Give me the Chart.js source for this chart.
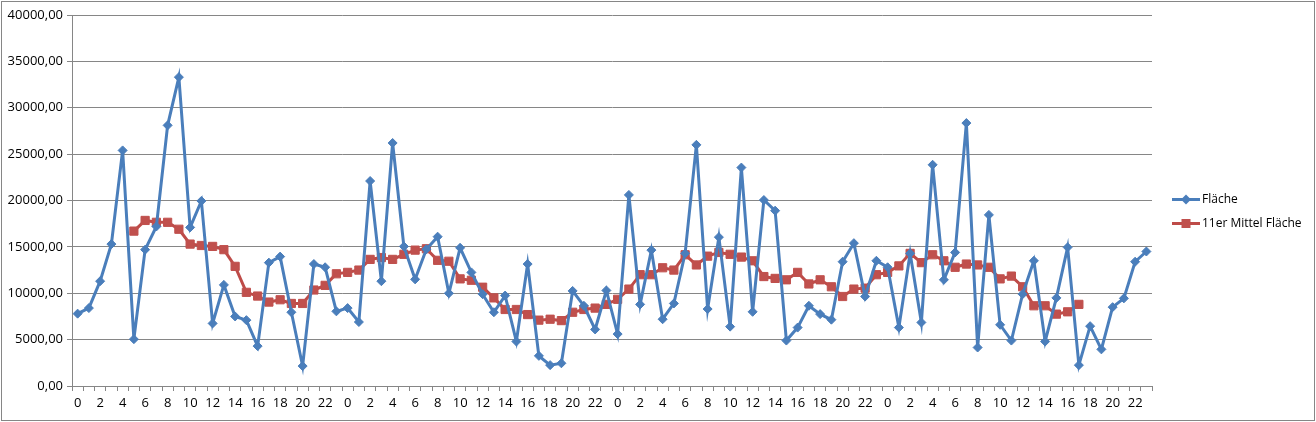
<!DOCTYPE html>
<html>
<head>
<meta charset="utf-8">
<script src="https://cdn.jsdelivr.net/npm/chart.js@4"></script>
<style>
  html, body { margin: 0; padding: 0; background: #fff; }
  #wrap { position: relative; width: 1316px; height: 422px; }
</style>
</head>
<body>
<div id="wrap"><canvas id="c"></canvas></div>
<script>
// ---- data ----
const hours = [0,1,2,3,4,5,6,7,8,9,10,11,12,13,14,15,16,17,18,19,20,21,22,23];
const categories = [].concat(hours, hours, hours, hours).map(String);

const flaeche = [
  7800, 8400, 11300, 15300, 25400, 5050, 14700, 17200, 28100, 33300, 17100, 19950,
  6750, 10900, 7500, 7100, 4300, 13300, 13950, 7950, 2150, 13150, 12800, 8050,
  8400, 6900, 22100, 11300, 26200, 15050, 11500, 14750, 16100, 10000, 14900, 12250,
  9900, 7950, 9750, 4800, 13150, 3250, 2250, 2450, 10250, 8650, 6100, 10300,
  5600, 20600, 8800, 14650, 7200, 8900, 14300, 26000, 8300, 16050, 6400, 23550,
  8000, 20050, 18900, 4900, 6300, 8650, 7750, 7150, 13400, 15400, 9650, 13500,
  12800, 6300, 14300, 6850, 23850, 11450, 14400, 28350, 4150, 18450, 6600, 4900,
  9900, 13500, 4800, 9500, 14950, 2250, 6450, 3950, 8500, 9450, 13400, 14500
];

const mittel = [
  null, null, null, null, null,
  16700, 17850, 17650, 17650, 16900, 15300, 15150, 15050, 14700, 12900, 10100, 9700,
  9050, 9300, 8900, 8900, 10350, 10850, 12100,
  12250, 12500, 13650, 13850, 13650, 14200, 14650, 14800, 13550, 13450, 11550, 11400,
  10650, 9500, 8250, 8250, 7700, 7100, 7200, 7050, 7950, 8250, 8400, 8800,
  9350, 10450, 12000, 12000, 12750, 12500, 14150, 13050, 14000, 14400, 14200, 13900,
  13500, 11800, 11600, 11450, 12250, 11000, 11450, 10700, 9650, 10450, 10550, 12000,
  12250, 12950, 14300, 13300, 14150, 13500, 12800, 13150, 13050, 12800, 11550, 11850,
  10700, 8650, 8650, 7750, 8000, 8800,
  null, null, null, null, null, null
];

const yTicks = [0, 5000, 10000, 15000, 20000, 25000, 30000, 35000, 40000];
const seriesNames = ['Fläche', '11er Mittel Fläche'];

// ---- styles ----
const BLUE = '#4A7EBB';
const RED = '#BE4B48';
const GRID = '#868686';
const FONT = '"Open Sans", "Noto Sans", sans-serif';

const frame = {
  id: 'frame',
  beforeDraw(chart) {
    const ctx = chart.ctx;
    ctx.save();
    ctx.fillStyle = '#fff';
    ctx.fillRect(0, 0, chart.width, chart.height);
    ctx.strokeStyle = GRID;
    ctx.lineWidth = 1;
    ctx.strokeRect(1.5, 1.5, chart.width - 3, chart.height - 3);
    ctx.restore();
  }
};

const legendPlugin = {
  id: 'xlLegend',
  afterDraw(chart) {
    const ctx = chart.ctx;
    const a = chart.chartArea;
    const x0 = a.right + 20;
    const midY = chart.height / 2;
    const rowH = 24;
    ctx.save();
    chart.data.datasets.forEach((ds, k) => {
      const y = Math.round(midY - rowH / 2 + k * rowH) + 0.5;
      ctx.strokeStyle = ds.borderColor;
      ctx.lineWidth = 3;
      ctx.beginPath();
      ctx.moveTo(x0, y);
      ctx.lineTo(x0 + 28, y);
      ctx.stroke();
      ctx.fillStyle = ds.pointBackgroundColor;
      const cx = x0 + 14;
      if (ds.pointStyle === 'rectRot') {
        const r = 5;
        ctx.beginPath();
        ctx.moveTo(cx, y - r); ctx.lineTo(cx + r, y); ctx.lineTo(cx, y + r); ctx.lineTo(cx - r, y);
        ctx.closePath();
        ctx.fill();
      } else {
        const s = 9;
        ctx.fillRect(cx - s / 2, y - s / 2, s, s);
      }
      ctx.fillStyle = '#000';
      ctx.font = '12px ' + FONT;
      ctx.textBaseline = 'middle';
      ctx.textAlign = 'left';
      ctx.fillText(ds.label, x0 + 30, y);
    });
    ctx.restore();
  }
};

new Chart(document.getElementById('c'), {
  type: 'line',
  data: {
    labels: categories,
    datasets: [
      {
        label: seriesNames[0],
        data: flaeche,
        borderColor: BLUE,
        backgroundColor: BLUE,
        pointBackgroundColor: BLUE,
        pointBorderColor: BLUE,
        borderWidth: 3,
        pointStyle: 'rectRot',
        pointRadius: 4.5,
        pointBorderWidth: 1,
        tension: 0
      },
      {
        label: seriesNames[1],
        data: mittel,
        borderColor: RED,
        backgroundColor: RED,
        pointBackgroundColor: '#C0504D',
        pointBorderColor: '#C0504D',
        borderWidth: 3,
        pointStyle: 'rect',
        pointRadius: 5.8,
        pointBorderWidth: 1,
        tension: 0,
        spanGaps: false
      }
    ]
  },
  options: {
    responsive: true,
    maintainAspectRatio: false,
    animation: false,
    layout: { padding: { left: 6, right: 164, top: 15, bottom: 6 } },
    plugins: {
      legend: { display: false },
      tooltip: { enabled: false }
    },
    scales: {
      x: {
        type: 'category',
        offset: true,
        grid: {
          offset: true,
          drawOnChartArea: false,
          drawTicks: true,
          tickLength: 5,
          color: GRID
        },
        border: { color: GRID, width: 1 },
        ticks: {
          autoSkip: false,
          maxRotation: 0,
          minRotation: 0,
          padding: 4,
          color: '#000',
          font: { family: FONT, size: 13 },
          callback: function (v, i) { return i % 2 === 0 ? categories[i] : ''; }
        },
        afterFit(scale) { scale.height = 30; }
      },
      y: {
        min: yTicks[0],
        max: yTicks[yTicks.length - 1],
        afterBuildTicks(scale) { scale.ticks = yTicks.map(v => ({ value: v })); },
        grid: {
          color: GRID,
          drawTicks: true,
          tickLength: 5,
          lineWidth: 1
        },
        border: { color: GRID, width: 1 },
        ticks: {
          padding: 4,
          color: '#000',
          font: { family: FONT, size: 13 },
          callback: v => Number(v).toFixed(2).replace('.', ',')
        },
        afterFit(scale) { scale.width = 66; }
      }
    }
  },
  plugins: [frame, legendPlugin]
});
</script>
</body>
</html>
